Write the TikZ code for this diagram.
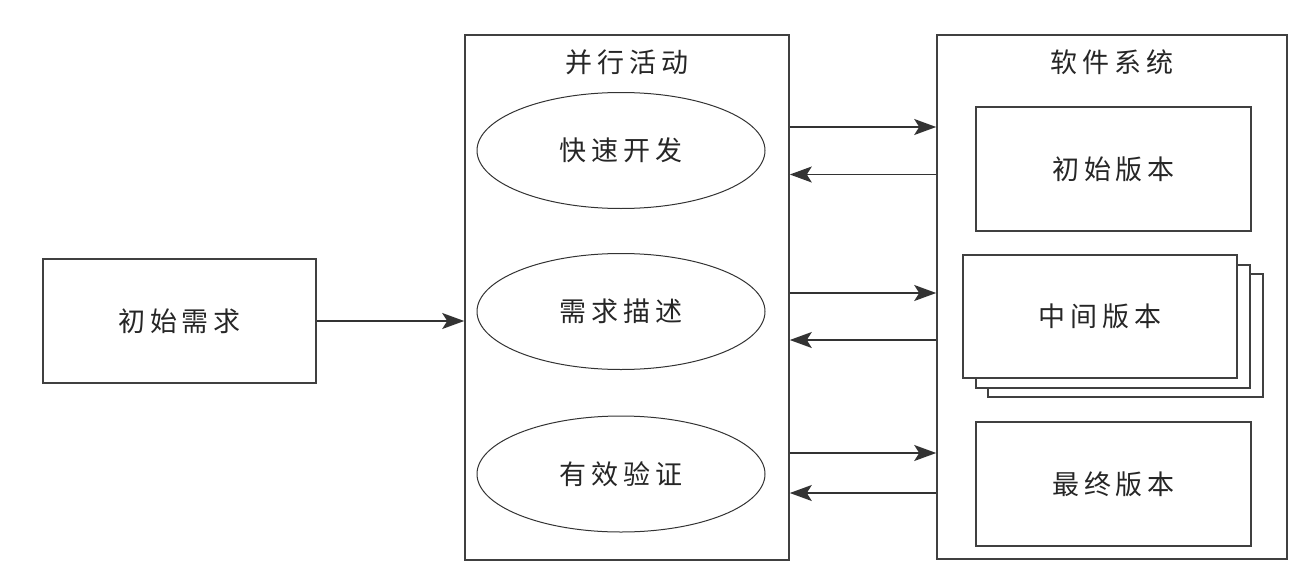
\documentclass[tikz,border=0pt]{standalone}
\usepackage{fontspec}
\newfontfamily\cjk[LetterSpace=18]{Noto Sans CJK SC}
\usetikzlibrary{arrows.meta,shapes.geometric}
\begin{document}
\begin{tikzpicture}[x=1pt,y=-1pt,
  lbl/.style={font=\cjk\fontsize{27}{30}\selectfont, text=black!85},
  box/.style={draw=black!75, line width=1.6pt, fill=white, rectangle, inner sep=0pt, lbl},
  oval/.style={draw=black!80, line width=1pt, ellipse, inner sep=0pt, lbl},
  arr/.style={draw=black!80, line width=1.5pt, -{Stealth[length=22pt,width=16pt,inset=5pt]}}
]
\useasboundingbox (0,0) rectangle (1316,578);
% big frames
\node[box, minimum width=324pt, minimum height=525pt] (par) at (627,297.5) {};
\node[box, minimum width=350pt, minimum height=524pt] (sys) at (1112,297) {};
\node[lbl] (part) at (627,62) {并行活动};
\node[lbl] (syst) at (1112,62) {软件系统};
% left box
\node[box, minimum width=273pt, minimum height=124pt] (init) at (179.5,321) {初始需求};
% ellipses
\node[oval, minimum width=288pt, minimum height=116pt] (e1) at (621,150.5) {快速开发};
\node[oval, minimum width=288pt, minimum height=116pt] (e2) at (621,311.5) {需求描述};
\node[oval, minimum width=288pt, minimum height=116pt] (e3) at (621,474) {有效验证};
% versions
\node[box, minimum width=275pt, minimum height=124pt] (v1) at (1113.5,169) {初始版本};
\node[box, minimum width=275pt, minimum height=123pt] (v2c) at (1125.5,335.5) {};
\node[box, minimum width=274pt, minimum height=123pt] (v2b) at (1113,326.5) {};
\node[box, minimum width=274pt, minimum height=123pt] (v2) at (1100,316.5) {中间版本};
\node[box, minimum width=275pt, minimum height=124pt] (v3) at (1113.5,484) {最终版本};
% connector levels
\coordinate (r1) at (0,127);
\coordinate (l1) at (0,174.5);
\coordinate (r2) at (0,293);
\coordinate (l2) at (0,340);
\coordinate (r3) at (0,453);
\coordinate (l3) at (0,493);
\draw[arr] (init.east) -- (par.west |- init.east);
\draw[arr] (par.east |- r1) -- (sys.west |- r1);
\draw[arr] (sys.west |- l1) -- (par.east |- l1);
\draw[arr] (par.east |- r2) -- (sys.west |- r2);
\draw[arr] (sys.west |- l2) -- (par.east |- l2);
\draw[arr] (par.east |- r3) -- (sys.west |- r3);
\draw[arr] (sys.west |- l3) -- (par.east |- l3);
\end{tikzpicture}
\end{document}
